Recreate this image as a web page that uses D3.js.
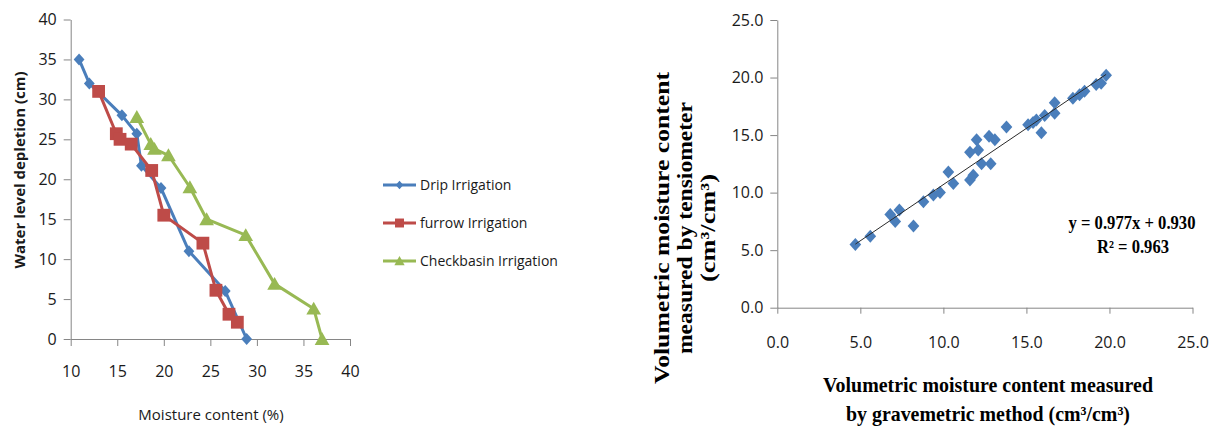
<!DOCTYPE html>
<html>
<head>
<meta charset="utf-8">
<script src="https://cdn.jsdelivr.net/npm/d3@7"></script>
<style>
  body { margin: 0; background: #fff; }
  svg { display: block; }
</style>
</head>
<body>
<svg id="chart" width="1214" height="428"></svg>
<script>
//////////// DATA ////////////

// left chart: moisture content (%) vs water level depletion (cm)
var dripX = [10.9, 12.0, 15.5, 17.1, 17.6, 19.7, 22.7, 26.6, 28.9];
var dripY = [35, 32, 28, 25.7, 21.7, 18.9, 11, 6, 0];

var furrowX = [13.0, 14.9, 15.3, 16.5, 18.7, 20.0, 24.2, 25.6, 27.0, 27.9];
var furrowY = [31, 25.7, 25, 24.4, 21.1, 15.5, 12, 6.1, 3.1, 2.1];

var checkX = [17.1, 18.6, 19.0, 20.5, 22.8, 24.6, 28.8, 31.9, 36.1, 37.0];
var checkY = [27.8, 24.4, 23.8, 23, 19, 15, 13, 6.9, 3.8, 0];

var seriesNames = ["Drip Irrigation", "furrow Irrigation", "Checkbasin Irrigation"];
var leftXTicks = [10, 15, 20, 25, 30, 35, 40];
var leftYTicks = [0, 5, 10, 15, 20, 25, 30, 35, 40];

// right chart: gravimetric vs tensiometer
var gravX = [4.7, 5.6, 6.8, 7.1, 7.35, 8.2, 8.8, 9.4, 9.8, 10.3, 10.6, 11.6, 11.8, 11.6, 12.0, 12.1, 12.3,
             12.85, 12.75, 13.1, 13.8, 15.1, 15.4, 15.6, 15.9, 16.1, 16.7, 16.7, 17.8, 18.2, 18.5, 19.2, 19.5, 19.8];
var tensY = [5.5, 6.2, 8.1, 7.5, 8.5, 7.1, 9.2, 9.8, 10.0, 11.8, 10.8, 11.1, 11.5, 13.5, 14.6, 13.7, 12.5,
             12.5, 14.9, 14.6, 15.7, 15.9, 16.1, 16.3, 15.2, 16.7, 16.9, 17.8, 18.2, 18.5, 18.8, 19.4, 19.5, 20.2];
var rightTicks = [0, 5, 10, 15, 20, 25];
var fitSlope = 0.977, fitIntercept = 0.930, fitR2 = 0.963;

//////////// SETUP ////////////

var svg = d3.select("#chart");
var axisColor = "#868686";
var tickFont = "'Open Sans', 'Noto Sans', sans-serif";
var serif = "'Liberation Serif', 'DejaVu Serif', serif";
var colors = ["#4A7EBB", "#BE4B48", "#98B954"];

// custom marker shapes (size = half width)
var diamond = { draw: function(ctx, r) { ctx.moveTo(0, -r); ctx.lineTo(r * 0.9, 0); ctx.lineTo(0, r); ctx.lineTo(-r * 0.9, 0); ctx.closePath(); } };
var square = { draw: function(ctx, r) { ctx.rect(-r, -r, 2 * r, 2 * r); } };
var triangle = { draw: function(ctx, r) { ctx.moveTo(0, -r); ctx.lineTo(r * 1.05, r * 0.85); ctx.lineTo(-r * 1.05, r * 0.85); ctx.closePath(); } };
var shapes = [diamond, square, triangle];
var markerSize = [6, 6.4, 7];

function styleAxis(g, size) {
  g.attr("font-family", tickFont).attr("font-size", size);
  g.select(".domain").attr("stroke", axisColor);
  g.selectAll(".tick line").attr("stroke", axisColor);
  g.selectAll(".tick text").attr("fill", "#1a1a1a");
}

//////////////////////////////////////
//////////// LEFT CHART //////////////
//////////////////////////////////////

var x1 = d3.scaleLinear().domain([10, 40]).range([70.7, 350]);
var y1 = d3.scaleLinear().domain([0, 40]).range([339, 19.5]);

svg.append("g")
    .attr("transform", "translate(0," + y1(0) + ")")
    .call(d3.axisBottom(x1).tickValues(leftXTicks).tickSize(7).tickSizeOuter(0).tickPadding(20))
    .call(styleAxis, 16);

svg.append("g")
    .attr("transform", "translate(" + x1(10) + ",0)")
    .call(d3.axisLeft(y1).tickValues(leftYTicks).tickSize(7).tickSizeOuter(0).tickPadding(7))
    .call(styleAxis, 16);

var leftSeries = [d3.zip(dripX, dripY), d3.zip(furrowX, furrowY), d3.zip(checkX, checkY)];
var line = d3.line().x(function(d) { return x1(d[0]); }).y(function(d) { return y1(d[1]); });

leftSeries.forEach(function(data, i) {
  var g = svg.append("g");
  g.append("path")
      .attr("d", line(data))
      .attr("fill", "none")
      .attr("stroke", colors[i])
      .attr("stroke-width", 3)
      .attr("stroke-linejoin", "round");
  g.selectAll("path.mk")
      .data(data)
      .enter().append("path")
      .attr("class", "mk")
      .attr("transform", function(d) { return "translate(" + x1(d[0]) + "," + y1(d[1]) + ")"; })
      .attr("d", d3.symbol(shapes[i], markerSize[i]).size(markerSize[i]))
      .attr("fill", colors[i]);
});

// axis titles
svg.append("text")
    .attr("transform", "translate(20,170) rotate(-90)")
    .attr("text-anchor", "middle")
    .attr("dy", "0.35em")
    .attr("font-family", tickFont)
    .attr("font-weight", "bold")
    .attr("font-size", 15)
    .attr("fill", "#1a1a1a")
    .text("Water level depletion (cm)");

svg.append("text")
    .attr("x", 211).attr("y", 415)
    .attr("text-anchor", "middle")
    .attr("dy", "0.35em")
    .attr("font-family", tickFont)
    .attr("font-size", 15)
    .attr("fill", "#1a1a1a")
    .text("Moisture content (%)");

// legend
var legend = svg.append("g").attr("transform", "translate(383,185)");
seriesNames.forEach(function(name, i) {
  var row = legend.append("g").attr("transform", "translate(0," + (i * 38) + ")");
  row.append("line").attr("x1", 0).attr("x2", 33).attr("stroke", colors[i]).attr("stroke-width", 3);
  row.append("path")
      .attr("transform", "translate(16.5,0)")
      .attr("d", d3.symbol(shapes[i], markerSize[i] * 0.7).size(markerSize[i] * 0.7))
      .attr("fill", colors[i]);
  row.append("text")
      .attr("x", 37).attr("dy", "0.35em")
      .attr("font-family", tickFont)
      .attr("font-size", 14)
      .attr("fill", "#1a1a1a")
      .text(name);
});

//////////////////////////////////////
//////////// RIGHT CHART /////////////
//////////////////////////////////////

var x2 = d3.scaleLinear().domain([0, 25]).range([777.3, 1192.5]);
var y2 = d3.scaleLinear().domain([0, 25]).range([307.7, 20]);
var fmt = d3.format(".1f");

svg.append("g")
    .attr("transform", "translate(0," + y2(0) + ")")
    .call(d3.axisBottom(x2).tickValues(rightTicks).tickFormat(fmt).tickSize(6).tickSizeOuter(0).tickPadding(23))
    .call(styleAxis, 16);

svg.append("g")
    .attr("transform", "translate(" + x2(0) + ",0)")
    .call(d3.axisLeft(y2).tickValues(rightTicks).tickFormat(fmt).tickSize(7).tickSizeOuter(0).tickPadding(7))
    .call(styleAxis, 16);

var pts = d3.zip(gravX, tensY);
svg.append("g").selectAll("path")
    .data(pts)
    .enter().append("path")
    .attr("transform", function(d) { return "translate(" + x2(d[0]) + "," + y2(d[1]) + ")"; })
    .attr("d", d3.symbol(diamond, 6.5).size(6.5))
    .attr("fill", "#4A7EBB");

// trend line
var fitDomain = d3.extent(gravX);
svg.append("line")
    .attr("x1", x2(fitDomain[0])).attr("y1", y2(fitSlope * fitDomain[0] + fitIntercept))
    .attr("x2", x2(fitDomain[1])).attr("y2", y2(fitSlope * fitDomain[1] + fitIntercept))
    .attr("stroke", "#2a2a2a")
    .attr("stroke-width", 1);

// equation
svg.append("text")
    .attr("x", 1132).attr("y", 223).attr("dy", "0.35em")
    .attr("text-anchor", "middle")
    .attr("font-family", serif).attr("font-weight", "bold").attr("font-size", 18)
    .attr("textLength", 127).attr("lengthAdjust", "spacingAndGlyphs")
    .text("y = " + fitSlope.toFixed(3) + "x + " + fitIntercept.toFixed(3));
svg.append("text")
    .attr("x", 1133).attr("y", 247).attr("dy", "0.35em")
    .attr("text-anchor", "middle")
    .attr("font-family", serif).attr("font-weight", "bold").attr("font-size", 18)
    .attr("textLength", 72).attr("lengthAdjust", "spacingAndGlyphs")
    .text("R² = " + fitR2.toFixed(3));

// y title, three lines
var yTitle = [
  { t: "Volumetric moisture content", x: 662, len: 312 },
  { t: "measured by tensiometer", x: 685, len: 252 },
  { t: "(cm³/cm³)", x: 708, len: 108 }
];
yTitle.forEach(function(l) {
  svg.append("text")
      .attr("transform", "translate(" + l.x + ",228) rotate(-90)")
      .attr("text-anchor", "middle").attr("dy", "0.35em")
      .attr("font-family", serif).attr("font-weight", "bold").attr("font-size", 21)
      .attr("textLength", l.len).attr("lengthAdjust", "spacingAndGlyphs")
      .text(l.t);
});

// x title, two lines
var xTitle = [
  { t: "Volumetric moisture content measured", y: 384, len: 330 },
  { t: "by gravemetric method (cm³/cm³)", y: 413, len: 284 }
];
xTitle.forEach(function(l) {
  svg.append("text")
      .attr("x", 988).attr("y", l.y).attr("dy", "0.35em")
      .attr("text-anchor", "middle")
      .attr("font-family", serif).attr("font-weight", "bold").attr("font-size", 22)
      .attr("textLength", l.len).attr("lengthAdjust", "spacingAndGlyphs")
      .text(l.t);
});
</script>
</body>
</html>
